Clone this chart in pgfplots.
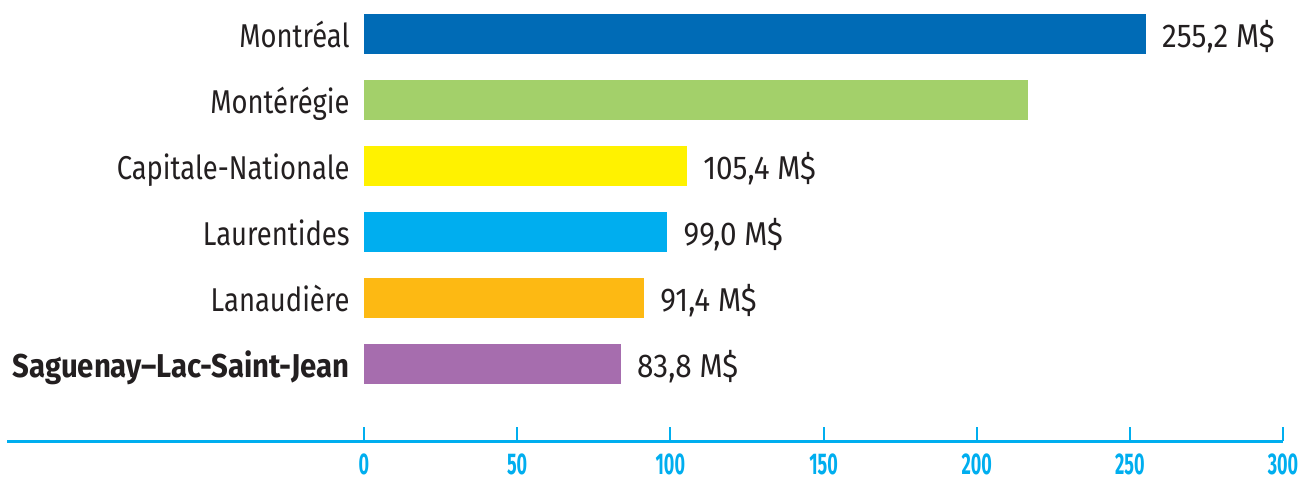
\documentclass[border=0pt]{standalone}
\usepackage{pgfplots}
\pgfplotsset{compat=1.18}
\usepackage{fontspec}
\setmainfont{Fira Sans}[FakeStretch=0.83]
\newfontfamily\labbold{Fira Sans}[FakeStretch=0.89]
\newfontfamily\valfont{Fira Sans}[FakeStretch=0.9]
\newfontfamily\tickfont{Fira Sans}[FakeStretch=0.6]
\definecolor{txt}{HTML}{231F20}
\definecolor{axc}{HTML}{00AEEF}
\definecolor{cmtl}{HTML}{006BB6}
\definecolor{cmte}{HTML}{A3D06A}
\definecolor{ccap}{HTML}{FFF200}
\definecolor{clau}{HTML}{00AEEF}
\definecolor{clan}{HTML}{FDB913}
\definecolor{csag}{HTML}{A66DAE}
\begin{document}
\begin{tikzpicture}
\begin{axis}[
  name=ax,
  at={(0,0)}, anchor=south west,
  scale only axis,
  width=638pt, height=220.5pt,
  xmin=-116.54, xmax=300,
  ymin=-1.1667, ymax=5.5152,
  axis x line=bottom,
  axis y line=none,
  x axis line style={draw=axc, line width=1.5pt, -},
  xtick={0,50,100,150,200,250,300},
  ytick=\empty,
  tick align=inside,
  major tick length=7pt,
  xtick style={draw=axc, line width=1pt},
  /pgf/number format/assume math mode=true,
  xticklabel style={font=\tickfont\bfseries\fontsize{15}{15}\selectfont, text=axc, anchor=base, yshift=-16.5pt, inner sep=0pt},
  xbar, bar width=20pt, bar shift=0pt,
  clip=false,
  nodes near coords,
  point meta=explicit symbolic,
  every node near coord/.append style={font=\valfont\fontsize{16.5}{18}\selectfont, text=txt, anchor=base west, inner sep=0pt, xshift=8pt, yshift=-6.5pt},
]
\addplot[fill=cmtl, draw=none] coordinates {(255.2,5) [255,2 M\$]};
\addplot[fill=cmte, draw=none] coordinates {(216.8,4) []};
\addplot[fill=ccap, draw=none] coordinates {(105.4,3) [105,4 M\$]};
\addplot[fill=clau, draw=none] coordinates {(99.0,2) [99,0 M\$]};
\addplot[fill=clan, draw=none] coordinates {(91.4,1) [91,4 M\$]};
\addplot[fill=csag, draw=none] coordinates {(83.8,0) [83,8 M\$]};
\begin{scope}[every node/.style={font=\fontsize{16.5}{18}\selectfont, text=txt, anchor=base east, inner sep=0pt, xshift=-7pt, yshift=-6.5pt}]
\node at (axis cs:0,5) {Montréal};
\node at (axis cs:0,4) {Montérégie};
\node at (axis cs:0,3) {Capitale-Nationale};
\node at (axis cs:0,2) {Laurentides};
\node at (axis cs:0,1) {Lanaudière};
\node at (axis cs:0,0) {\labbold\bfseries Saguenay–Lac-Saint-Jean};
\end{scope}
\end{axis}
\pgfresetboundingbox
\path[use as bounding box] ([xshift=-3.5pt,yshift=-19pt]ax.south west) rectangle ([xshift=10pt]ax.north east);
\end{tikzpicture}
\end{document}
